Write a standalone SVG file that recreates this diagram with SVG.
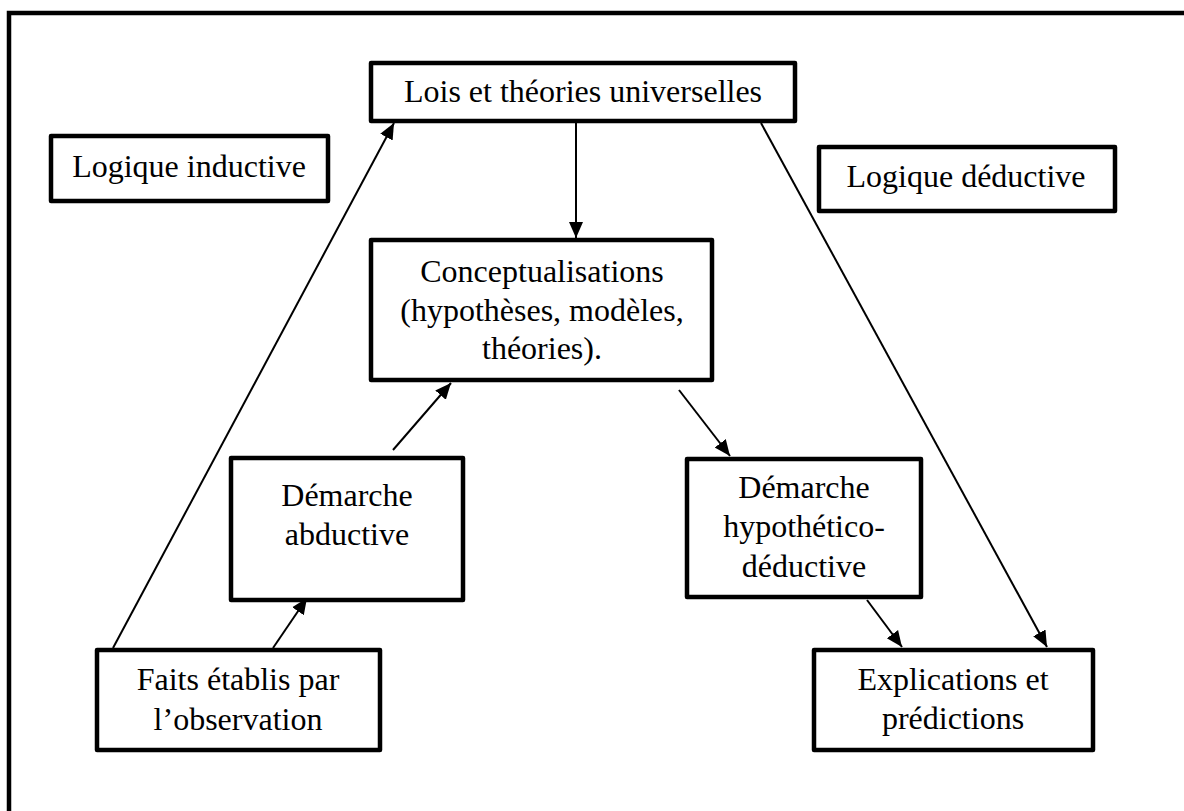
<svg xmlns="http://www.w3.org/2000/svg" width="1184" height="811" viewBox="0 0 1184 811">
  <style>
    .box { fill: #ffffff; stroke: #000000; stroke-width: 4.5; stroke-linejoin: round; }
    .frame { fill: none; stroke: #000000; stroke-width: 4.5; }
    .lbl { font-family: "Liberation Serif", "Times New Roman", serif; font-size: 32px; fill: #000000; text-anchor: middle; }
    .conn { fill: none; stroke: #000000; stroke-width: 2; }
  </style>
  <defs>
    <marker id="arrow" markerUnits="userSpaceOnUse" markerWidth="18" markerHeight="16" refX="16" refY="8" orient="auto">
      <path d="M0,1 L16,8 L0,15 Z" fill="#000000"/>
    </marker>
  </defs>

  <rect x="0" y="0" width="1184" height="811" fill="#ffffff"/>
  <!-- page frame, running past the right and bottom edges -->
  <path class="frame" d="M9,811 V13 H1184"/>

  <g id="connectors">
    <line class="conn" x1="113" y1="648" x2="394" y2="123" marker-end="url(#arrow)"/>
    <line class="conn" x1="576" y1="116" x2="576" y2="238" marker-end="url(#arrow)"/>
    <line class="conn" x1="761" y1="123" x2="1047" y2="647" marker-end="url(#arrow)"/>
    <line class="conn" x1="273" y1="648" x2="307" y2="598" marker-end="url(#arrow)"/>
    <line class="conn" x1="393" y1="450" x2="451" y2="383" marker-end="url(#arrow)"/>
    <line class="conn" x1="679" y1="390" x2="730" y2="456" marker-end="url(#arrow)"/>
    <line class="conn" x1="867" y1="600" x2="902" y2="647" marker-end="url(#arrow)"/>
  </g>

  <g id="lois">
    <rect class="box" x="371" y="63" width="424" height="58"/>
    <text class="lbl" x="583" y="102">Lois et théories universelles</text>
  </g>

  <g id="logique-inductive">
    <rect class="box" x="51" y="136" width="277" height="65"/>
    <text class="lbl" x="189" y="177">Logique inductive</text>
  </g>

  <g id="logique-deductive">
    <rect class="box" x="819" y="147" width="296" height="64"/>
    <text class="lbl" x="966" y="187">Logique déductive</text>
  </g>

  <g id="conceptualisations">
    <rect class="box" x="371" y="240" width="341" height="140"/>
    <text class="lbl" x="542" y="282">Conceptualisations</text>
    <text class="lbl" x="542" y="321">(hypothèses, modèles,</text>
    <text class="lbl" x="542" y="359">théories).</text>
  </g>

  <g id="abductive">
    <rect class="box" x="231" y="458" width="232" height="142"/>
    <text class="lbl" x="347" y="506">Démarche</text>
    <text class="lbl" x="347" y="545">abductive</text>
  </g>

  <g id="hypothetico-deductive">
    <rect class="box" x="687" y="459" width="234" height="138"/>
    <text class="lbl" x="804" y="498">Démarche</text>
    <text class="lbl" x="804" y="537">hypothético-</text>
    <text class="lbl" x="804" y="577">déductive</text>
  </g>

  <g id="faits">
    <rect class="box" x="97" y="650" width="283" height="100"/>
    <text class="lbl" x="238" y="690">Faits établis par</text>
    <text class="lbl" x="238" y="730">l’observation</text>
  </g>

  <g id="explications">
    <rect class="box" x="814" y="650" width="279" height="100"/>
    <text class="lbl" x="953" y="690">Explications et</text>
    <text class="lbl" x="953" y="729">prédictions</text>
  </g>
</svg>
